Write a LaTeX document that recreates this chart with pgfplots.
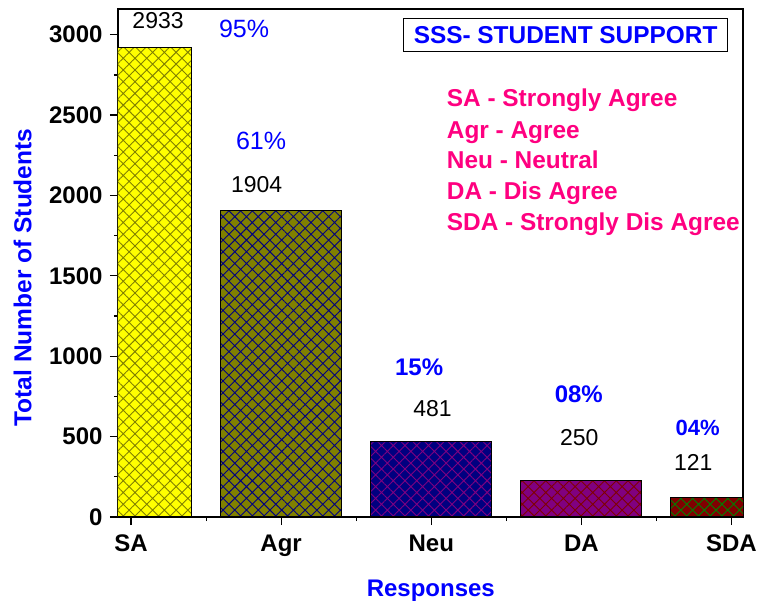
\documentclass[border=0pt]{standalone}
\usepackage{pgfplots}
\pgfplotsset{compat=1.18}
\usepackage{fontspec}
\setmainfont{Liberation Sans}
\usetikzlibrary{patterns.meta}
\definecolor{oblue}{RGB}{0,0,255}
\definecolor{opink}{RGB}{255,0,128}
\definecolor{oyellow}{RGB}{255,255,0}
\definecolor{oolive}{RGB}{128,128,0}
\definecolor{onavy}{RGB}{0,0,128}
\definecolor{opurple}{RGB}{128,0,128}
\definecolor{omaroon}{RGB}{128,0,0}
\definecolor{ogreen}{RGB}{0,128,0}
\newcommand{\fs}[1]{\fontsize{#1}{#1}\selectfont}
\begin{document}
\begin{tikzpicture}
\begin{axis}[name=ax, scale only axis, width=625pt, height=508pt,
 xmin=-0.087, xmax=4.077, ymin=0, ymax=3160,
 xtick={0,1,2,3,4}, xticklabels={SA,Agr,Neu,DA,SDA},
 ytick={0,500,...,3000},
 minor x tick num=1, minor y tick num=1,
 xtick pos=bottom, ytick pos=left,
 tick align=outside, major tick length=8pt, minor tick length=4pt,
 every tick/.style={black, line width=1.2pt},
 axis line style={line width=1.4pt},
 /pgf/number format/assume math mode=true,
 /pgf/number format/1000 sep={},
 ticklabel style={font=\fs{24}\bfseries},
 xticklabel style={yshift=-6pt},
 yticklabel style={xshift=-4pt},
 clip mode=individual,
 hatchbar/.style n args={2}{ybar, bar width=0.806, bar shift=0pt, draw=black, line width=1pt, fill=#1,
   postaction={pattern={Hatch[angle=45,distance=8.3pt,line width=0.9pt]}, pattern color=#2}},
]
\addplot[hatchbar={oyellow}{oolive}] coordinates {(0,2920)};
\addplot[hatchbar={oolive}{onavy}] coordinates {(1,1904)};
\addplot[hatchbar={onavy}{opurple}] coordinates {(2,467)};
\addplot[hatchbar={opurple}{omaroon}] coordinates {(3,228)};
\addplot[hatchbar={omaroon}{ogreen}] coordinates {(4,119)};

\node[font=\fs{23}] at (axis cs:0.18,3085) {2933};
\node[font=\fs{25}, text=oblue] at (axis cs:0.753,3035) {95\%};
\node[font=\fs{25}, text=oblue] at (axis cs:0.866,2338) {61\%};
\node[font=\fs{23}] at (axis cs:0.837,2066) {1904};
\node[font=\fs{24}\bfseries, text=oblue] at (axis cs:1.919,933) {15\%};
\node[font=\fs{23}] at (axis cs:2.009,675) {481};
\node[font=\fs{24}\bfseries, text=oblue] at (axis cs:2.983,765) {08\%};
\node[font=\fs{23}] at (axis cs:2.986,492) {250};
\node[font=\fs{22}\bfseries, text=oblue] at (axis cs:3.775,552) {04\%};
\node[font=\fs{23}] at (axis cs:3.746,342) {121};

\node[draw=black, line width=0.8pt, minimum width=324pt, minimum height=33pt, inner sep=0pt,
  font=\fs{24.4}\bfseries, text=oblue] at (axis cs:2.895,2999) {SSS- STUDENT SUPPORT};
\node[anchor=base west, inner sep=0pt, font=\fs{24.4}\bfseries, text=opink] at (axis cs:2.103,2556) {SA - Strongly Agree};
\node[anchor=base west, inner sep=0pt, font=\fs{24.4}\bfseries, text=opink] at (axis cs:2.103,2355) {Agr - Agree};
\node[anchor=base west, inner sep=0pt, font=\fs{24.4}\bfseries, text=opink] at (axis cs:2.103,2168) {Neu - Neutral};
\node[anchor=base west, inner sep=0pt, font=\fs{24.4}\bfseries, text=opink] at (axis cs:2.103,1975) {DA - Dis Agree};
\node[anchor=base west, inner sep=0pt, font=\fs{24.4}\bfseries, text=opink] at (axis cs:2.103,1784) {SDA - Strongly Dis Agree};
\end{axis}
\node[font=\fs{24.5}\bfseries, text=oblue, rotate=90] at ([xshift=-95.5pt,yshift=239.5pt]ax.south west) {Total Number of Students};
\node[font=\fs{24}\bfseries, text=oblue, anchor=base] at ([xshift=312.8pt,yshift=-79pt]ax.south west) {Responses};
\pgfresetboundingbox
\path ([xshift=-118pt,yshift=-87pt]ax.south west) rectangle ([xshift=19pt,yshift=9pt]ax.north east);
\end{tikzpicture}
\end{document}
